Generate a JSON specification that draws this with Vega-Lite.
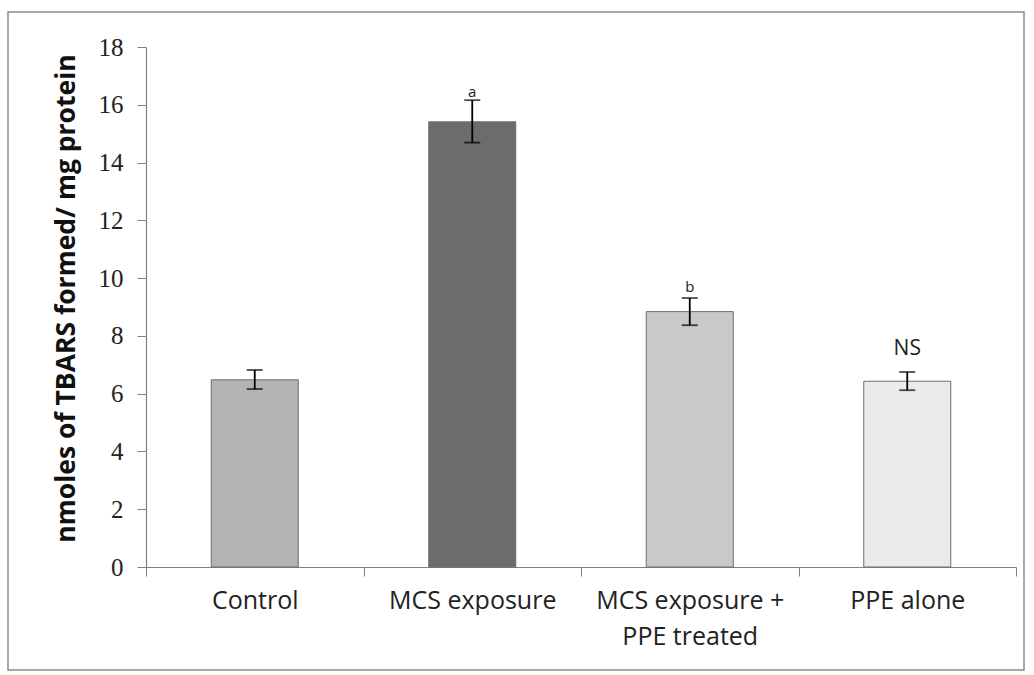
{
  "$schema": "https://vega.github.io/schema/vega-lite/v6.json",
  "width": 1016,
  "height": 658,
  "autosize": {"type": "none"},
  "padding": {"left": 8, "top": 12, "right": 10, "bottom": 5},
  "background": "white",
  "config": {
    "view": {"stroke": "#8c8c8c", "strokeWidth": 1.5},
    "font": "Open Sans"
  },
  "data": {
    "values": [
      {"group": "Control", "value": 6.48, "lo": 6.16, "hi": 6.82, "label": "", "labelY": 0},
      {"group": "MCS exposure", "value": 15.41, "lo": 14.69, "hi": 16.16, "label": "a", "labelY": 16.45},
      {"group": "MCS exposure + PPE treated", "value": 8.84, "lo": 8.37, "hi": 9.31, "label": "b", "labelY": 9.69},
      {"group": "PPE alone", "value": 6.43, "lo": 6.12, "hi": 6.75, "label": "NS", "labelY": 7.54}
    ]
  },
  "encoding": {
    "x": {
      "field": "group",
      "type": "nominal",
      "sort": null,
      "scale": {"type": "band", "range": [138, 1008], "paddingInner": 0, "paddingOuter": 0},
      "axis": {
        "title": null,
        "orient": "bottom",
        "offset": -103,
        "domainColor": "#808080",
        "domainWidth": 1.2,
        "tickColor": "#808080",
        "tickSize": 9,
        "tickBand": "extent",
        "labelAngle": 0,
        "labelLimit": 0,
        "labelFont": "Open Sans",
        "labelFontSize": 25,
        "labelColor": "#222222",
        "labelPadding": 12,
        "labelLineHeight": 36,
        "labelExpr": "datum.value == 'MCS exposure + PPE treated' ? ['MCS exposure +', 'PPE treated'] : datum.value"
      }
    }
  },
  "layer": [
    {
      "mark": {"type": "bar", "width": {"band": 0.4}, "stroke": "#6e6e6e", "strokeWidth": 1},
      "encoding": {
        "y": {
          "field": "value",
          "type": "quantitative",
          "scale": {"domain": [0, 18], "range": [555, 35], "nice": false, "zero": true},
          "axis": {
            "title": "nmoles of TBARS formed/ mg protein",
            "orient": "left",
            "offset": -138,
            "values": [0, 2, 4, 6, 8, 10, 12, 14, 16, 18],
            "grid": false,
            "domainColor": "#808080",
            "domainWidth": 1.2,
            "tickColor": "#808080",
            "tickSize": 9,
            "labelFont": "Liberation Serif",
            "labelFontSize": 25,
            "labelColor": "#222222",
            "labelPadding": 14,
            "titleFont": "Open Sans",
            "titleFontSize": 26.5,
            "titleFontWeight": "bold",
            "titleColor": "#111111",
            "titleBaseline": "middle",
            "titleX": -80,
            "titleY": 286,
            "titleLimit": 0
          }
        },
        "color": {
          "field": "group",
          "type": "nominal",
          "legend": null,
          "scale": {
            "domain": ["Control", "MCS exposure", "MCS exposure + PPE treated", "PPE alone"],
            "range": ["#b3b3b3", "#6c6c6c", "#c9c9c9", "#ebebeb"]
          }
        }
      }
    },
    {
      "mark": {"type": "rule", "color": "#000000", "strokeWidth": 1.8},
      "encoding": {
        "y": {"field": "lo", "type": "quantitative"},
        "y2": {"field": "hi"}
      }
    },
    {
      "mark": {"type": "tick", "color": "#000000", "thickness": 1.8, "size": 16},
      "encoding": {
        "y": {"field": "lo", "type": "quantitative"}
      }
    },
    {
      "mark": {"type": "tick", "color": "#000000", "thickness": 1.8, "size": 16},
      "encoding": {
        "y": {"field": "hi", "type": "quantitative"}
      }
    },
    {
      "transform": [{"filter": "datum.label == 'a' || datum.label == 'b'"}],
      "mark": {"type": "text", "font": "Open Sans", "fontSize": 15, "color": "#222222", "baseline": "middle"},
      "encoding": {
        "y": {"field": "labelY", "type": "quantitative"},
        "text": {"field": "label"}
      }
    },
    {
      "transform": [{"filter": "datum.label == 'NS'"}],
      "mark": {"type": "text", "font": "Open Sans", "fontSize": 21, "color": "#222222", "baseline": "middle"},
      "encoding": {
        "y": {"field": "labelY", "type": "quantitative"},
        "text": {"field": "label"}
      }
    }
  ]
}
